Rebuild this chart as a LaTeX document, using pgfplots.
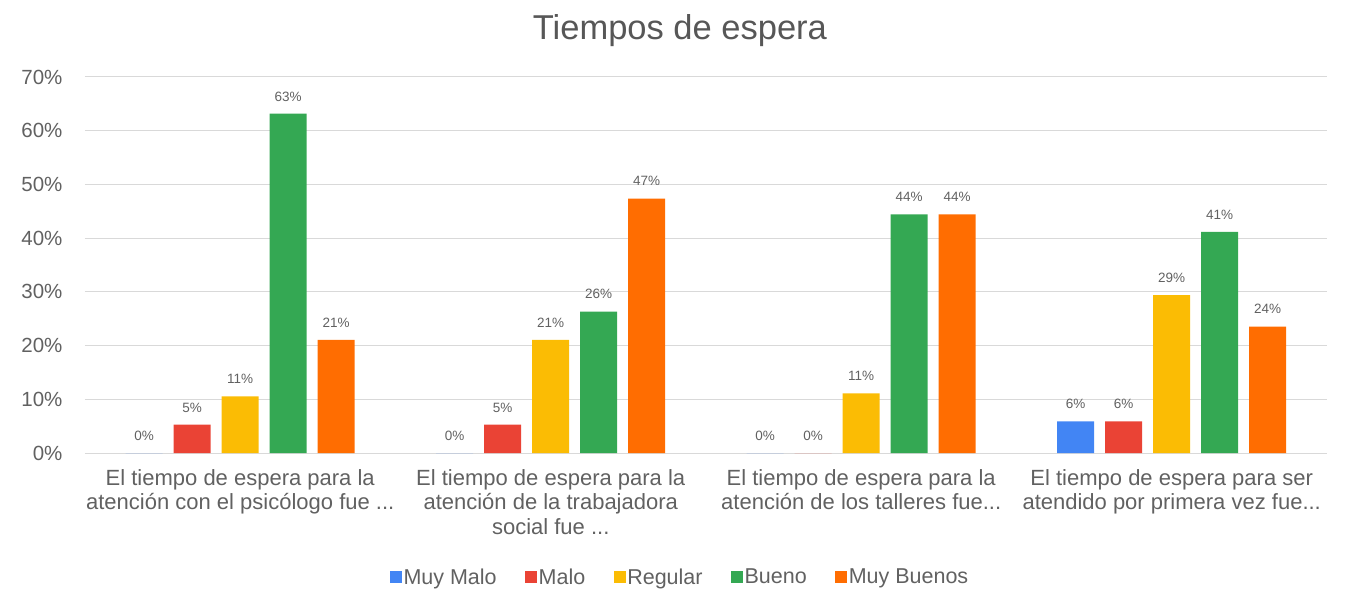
\documentclass[border=0pt]{standalone}
\usepackage{pgfplots}
\pgfplotsset{compat=1.18}
\usepackage{fontspec}
\setmainfont{Liberation Sans}
\definecolor{cMM}{HTML}{4285F4}
\definecolor{cM}{HTML}{EA4335}
\definecolor{cR}{HTML}{FBBC04}
\definecolor{cB}{HTML}{34A853}
\definecolor{cMB}{HTML}{FF6D01}
\definecolor{txt}{HTML}{616161}
\definecolor{grd}{HTML}{D9D9D9}
\newcommand\dd{...}
\begin{document}
\begin{tikzpicture}
\begin{axis}[
  at={(0,0)}, anchor=south west,
  scale only axis, width=1242pt, height=376pt,
  ybar=11pt, bar width=37pt,
  xmin=-0.5, xmax=3.5, ymin=0, ymax=70,
  xtick={0,1,2,3},
  xticklabels={{El tiempo de espera para la\\atención con el psicólogo fue \dd},
               {El tiempo de espera para la\\atención de la trabajadora\\social fue \dd},
               {El tiempo de espera para la\\atención de los talleres fue\dd},
               {El tiempo de espera para ser\\atendido por primera vez fue\dd}},
  ytick={0,10,20,30,40,50,60,70},
  yticklabels={0\%,10\%,20\%,30\%,40\%,50\%,60\%,70\%},
  major tick length=0pt,
  axis line style={draw=none},
  ymajorgrids, grid style={grd, line width=1pt},
  xticklabel style={align=center, font=\fontsize{22}{24.5}\selectfont, text=txt, yshift=-13pt},
  yticklabel style={font=\fontsize{20.5}{25}\selectfont, text=txt, xshift=-19pt},
  nodes near coords={\pgfmathprintnumber[fixed,precision=0,assume math mode=true]{\pgfplotspointmeta}\%},
  nodes near coords style={font=\fontsize{13.5}{15}\selectfont, text=txt, yshift=9pt},
  title={Tiempos de espera},
  title style={at={(axis description cs:0.479,1)}, anchor=center, yshift=40pt, font=\fontsize{34.5}{40}\selectfont, text=txt!90!black},
  legend columns=5,
  legend style={at={(axis description cs:0.479,-0.33)}, anchor=center, draw=none, fill=none,
    font=\fontsize{21.5}{24}\selectfont, text=txt,
    nodes={inner sep=1.5pt},
    /tikz/every odd column/.style={column sep=0pt},
    /tikz/every even column/.style={column sep=27pt}},
  legend image code/.code={\fill[#1] (0pt,-6pt) rectangle (12pt,6pt);},
  legend cell align=left,
]
\addplot[fill=cMM, draw=none] coordinates {(0,0) (1,0) (2,0) (3,5.88)};
\addplot[fill=cM, draw=none] coordinates {(0,5.26) (1,5.26) (2,0) (3,5.88)};
\addplot[fill=cR, draw=none] coordinates {(0,10.53) (1,21.05) (2,11.11) (3,29.41)};
\addplot[fill=cB, draw=none] coordinates {(0,63.16) (1,26.32) (2,44.44) (3,41.18)};
\addplot[fill=cMB, draw=none] coordinates {(0,21.05) (1,47.37) (2,44.44) (3,23.53)};
\legend{Muy Malo, Malo, Regular, Bueno, Muy Buenos}
\end{axis}
\path[use as bounding box] (-85pt,-154pt) rectangle (1263pt,453pt);
\end{tikzpicture}
\end{document}
